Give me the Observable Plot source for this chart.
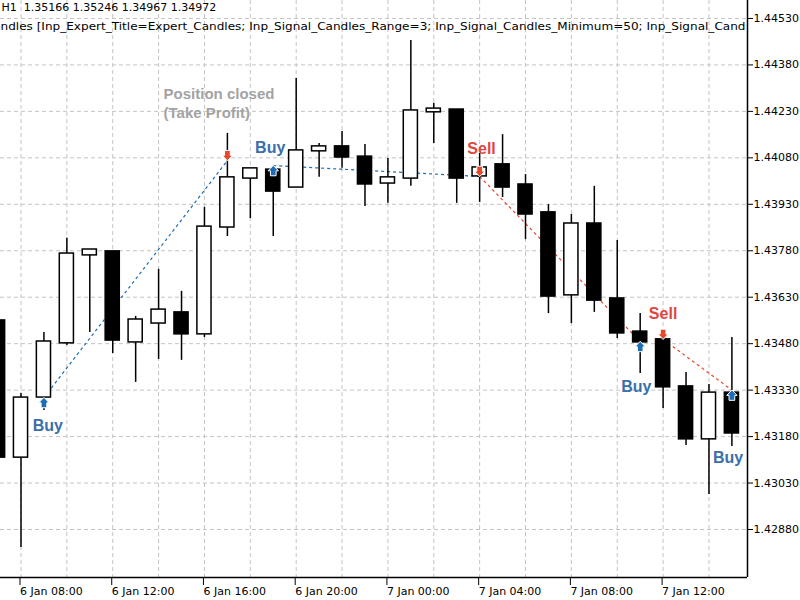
<!DOCTYPE html>
<html><head><meta charset="utf-8">
<script src="https://cdn.jsdelivr.net/npm/d3@7"></script>
<script src="https://cdn.jsdelivr.net/npm/@observablehq/plot@0.6"></script>
<style>body{margin:0;background:#fff} #chart{position:absolute;left:0;top:0}</style>
</head><body><div id="chart"></div>
<script>
// ---- candle data (H1) ----
const times = [
  "2020-01-06T07:00Z","2020-01-06T08:00Z","2020-01-06T09:00Z","2020-01-06T10:00Z","2020-01-06T11:00Z",
  "2020-01-06T12:00Z","2020-01-06T13:00Z","2020-01-06T14:00Z","2020-01-06T15:00Z","2020-01-06T16:00Z",
  "2020-01-06T17:00Z","2020-01-06T18:00Z","2020-01-06T19:00Z","2020-01-06T20:00Z","2020-01-06T21:00Z",
  "2020-01-06T22:00Z","2020-01-06T23:00Z","2020-01-07T00:00Z","2020-01-07T01:00Z","2020-01-07T02:00Z",
  "2020-01-07T03:00Z","2020-01-07T04:00Z","2020-01-07T05:00Z","2020-01-07T06:00Z","2020-01-07T07:00Z",
  "2020-01-07T08:00Z","2020-01-07T09:00Z","2020-01-07T10:00Z","2020-01-07T11:00Z","2020-01-07T12:00Z",
  "2020-01-07T13:00Z","2020-01-07T14:00Z","2020-01-07T15:00Z"
];
const opens  = [1.43555,1.43112,1.43306,1.43481,1.43765,1.43778,1.43484,1.43545,1.43581,1.43510,
                1.43855,1.44013,1.44042,1.43984,1.44101,1.44117,1.44084,1.43997,1.44013,1.44227,
                1.44236,1.44020,1.44059,1.43994,1.43904,1.43636,1.43868,1.43626,1.43519,1.43494,
                1.43342,1.43171,1.43322];
const highs  = [1.43570,1.43319,1.43516,1.43820,1.43784,1.43778,1.43568,1.43720,1.43649,1.43920,
                1.44159,1.44046,1.44042,1.44336,1.44126,1.44165,1.44123,1.44078,1.44459,1.44256,
                1.44236,1.44094,1.44155,1.44026,1.43929,1.43897,1.43988,1.43813,1.43577,1.43494,
                1.43387,1.43348,1.43500];
const lows   = [1.43100,1.42822,1.43264,1.43474,1.43516,1.43448,1.43355,1.43429,1.43426,1.43500,
                1.43826,1.43884,1.43826,1.43984,1.44017,1.44046,1.43923,1.43933,1.43988,1.44126,
                1.43933,1.43936,1.43952,1.43816,1.43577,1.43545,1.43581,1.43497,1.43384,1.43271,
                1.43151,1.42993,1.43148];
const closes = [1.43112,1.43306,1.43487,1.43771,1.43784,1.43490,1.43558,1.43590,1.43510,1.43858,
                1.44017,1.44046,1.43971,1.44104,1.44117,1.44081,1.43994,1.44017,1.44233,1.44239,
                1.44013,1.44049,1.43984,1.43897,1.43632,1.43868,1.43619,1.43513,1.43484,1.43339,
                1.43171,1.43322,1.43190];

// ---- trades (entry -> exit) ----
const tradeSide   = ["buy","buy","sell","sell"];
const tradeOpenT  = ["2020-01-06T09:00Z","2020-01-06T19:00Z","2020-01-07T04:00Z","2020-01-07T12:00Z"];
const tradeOpenP  = [1.43306,1.44055,1.44020,1.43494];
const tradeCloseT = ["2020-01-06T17:00Z","2020-01-07T04:00Z","2020-01-07T11:00Z","2020-01-07T15:00Z"];
const tradeCloseP = [1.44071,1.44020,1.43487,1.43330];

// ---- arrows ----
const arrowDir   = ["up","down","up","down","up","down","up"];
const arrowTimes = ["2020-01-06T09:00Z","2020-01-06T17:00Z","2020-01-06T19:00Z","2020-01-07T04:00Z","2020-01-07T11:00Z","2020-01-07T12:00Z","2020-01-07T15:00Z"];
const arrowPrice = [1.43306,1.44071,1.44055,1.44020,1.43487,1.43494,1.43330];

// ---- text labels ----
const labelText  = ["Buy","Buy","Sell","Buy","Sell","Buy"];
const labelTimes = ["2020-01-06T09:10Z","2020-01-06T18:52Z","2020-01-07T04:05Z","2020-01-07T10:50Z","2020-01-07T12:00Z","2020-01-07T14:50Z"];
const labelPrice = [1.43213,1.44113,1.44110,1.43342,1.43577,1.43112];
const noteText   = "Position closed\n(Take Profit)";
const noteTime   = "2020-01-06T14:13Z";
const notePrice  = 1.44259;

// ---- axes ----
const yTicks = [1.44530,1.44380,1.44230,1.44080,1.43930,1.43780,1.43630,1.43480,1.43330,1.43180,1.43030,1.42880];
const xTicks = ["2020-01-06T08:00Z","2020-01-06T12:00Z","2020-01-06T16:00Z","2020-01-06T20:00Z","2020-01-07T00:00Z","2020-01-07T04:00Z","2020-01-07T08:00Z","2020-01-07T12:00Z"];
const xGrid  = ["2020-01-06T08:00Z","2020-01-06T10:00Z","2020-01-06T12:00Z","2020-01-06T14:00Z","2020-01-06T16:00Z","2020-01-06T18:00Z","2020-01-06T20:00Z","2020-01-06T22:00Z",
                "2020-01-07T00:00Z","2020-01-07T02:00Z","2020-01-07T04:00Z","2020-01-07T06:00Z","2020-01-07T08:00Z","2020-01-07T10:00Z","2020-01-07T12:00Z","2020-01-07T14:00Z"];
const header1 = "H1\u00a0\u00a01.35166 1.35246 1.34967 1.34972";
const header2 = "ndles [Inp_Expert_Title=Expert_Candles; Inp_Signal_Candles_Range=3; Inp_Signal_Candles_Minimum=50; Inp_Signal_Cand";

// ---- build tables ----
const D = s => new Date(s);
const HALF = 18.5 * 60 * 1000;
const candles = times.map((t, i) => ({t: D(t), o: opens[i], h: highs[i], l: lows[i], c: closes[i]}));
const bulls = candles.filter(d => d.c >= d.o);
const bears = candles.filter(d => d.c < d.o);
const trades = tradeSide.map((s, i) => ({side: s, t1: D(tradeOpenT[i]), p1: tradeOpenP[i], t2: D(tradeCloseT[i]), p2: tradeCloseP[i]}));
const arrows = arrowDir.map((d, i) => ({dir: d, t: D(arrowTimes[i]), p: arrowPrice[i]}));
const labels = labelText.map((s, i) => ({s, t: D(labelTimes[i]), p: labelPrice[i]}));

const upArrow = {draw(ctx, size) {
  const r = Math.sqrt(size / Math.PI), w = r * 0.55, m = r * 0.05;
  ctx.moveTo(0, -r); ctx.lineTo(r, m); ctx.lineTo(w, m); ctx.lineTo(w, r);
  ctx.lineTo(-w, r); ctx.lineTo(-w, m); ctx.lineTo(-r, m); ctx.closePath();
}};
const downArrow = {draw(ctx, size) {
  const r = Math.sqrt(size / Math.PI), w = r * 0.55, m = r * 0.05;
  ctx.moveTo(0, r); ctx.lineTo(r, -m); ctx.lineTo(w, -m); ctx.lineTo(w, -r);
  ctx.lineTo(-w, -r); ctx.lineTo(-w, -m); ctx.lineTo(-r, -m); ctx.closePath();
}};

const pad = n => String(n).padStart(2, "0");
const fmtX = d => `${d.getUTCDate()} Jan ${pad(d.getUTCHours())}:${pad(d.getUTCMinutes())}`;
const xMin = D("2020-01-06T07:06:22Z"), xMax = D("2020-01-07T15:40:48Z");
const yMin = 1.42725, yMax = 1.44588;
const gridStyle = {stroke: "#c4c4c4", strokeDasharray: "4,3", strokeWidth: 1};
const BLUE = "#1c6db5", RED = "#e8482a";

const chart = Plot.plot({
  width: 800, height: 600,
  marginLeft: 0, marginRight: 53, marginTop: 0, marginBottom: 23,
  style: {fontFamily: "DejaVu Sans", fontSize: "11px", color: "#000", background: "#fff"},
  x: {type: "utc", domain: [xMin, xMax], axis: null},
  y: {domain: [yMin, yMax], axis: null},
  marks: [
    Plot.ruleY(yTicks, {y: d => d, ...gridStyle}),
    Plot.ruleX(xGrid.map(D), {x: d => d, ...gridStyle}),
    Plot.text([header1], {text: d => d, frameAnchor: "top-left", dx: 1, dy: 3, lineAnchor: "top", textAnchor: "start", fill: "#000", fontSize: 11}),
    Plot.text([header2], {text: d => d, frameAnchor: "top-left", dx: 0, dy: 22, lineAnchor: "top", textAnchor: "start", fill: "#000", fontSize: 11}),
    Plot.link(trades.filter(d => d.side === "buy"), {x1: "t1", y1: "p1", x2: "t2", y2: "p2", stroke: BLUE, strokeWidth: 1.2, strokeDasharray: "3,3"}),
    Plot.link(trades.filter(d => d.side === "sell"), {x1: "t1", y1: "p1", x2: "t2", y2: "p2", stroke: RED, strokeWidth: 1.2, strokeDasharray: "3,3"}),
    Plot.ruleX(candles, {x: "t", y1: "l", y2: "h", stroke: "#000", strokeWidth: 1.5}),
    Plot.rect(bulls, {x1: d => new Date(+d.t - HALF), x2: d => new Date(+d.t + HALF), y1: "o", y2: "c", fill: "#fff", stroke: "#000", strokeWidth: 1.5}),
    Plot.rect(bears, {x1: d => new Date(+d.t - HALF), x2: d => new Date(+d.t + HALF), y1: "o", y2: "c", fill: "#000", stroke: "#000", strokeWidth: 1.5}),
    Plot.dot(arrows.filter(d => d.dir === "up"), {x: "t", y: "p", symbol: upArrow, r: 5.2, dy: 5, fill: BLUE, stroke: "#fff", strokeWidth: 1}),
    Plot.dot(arrows.filter(d => d.dir === "down"), {x: "t", y: "p", symbol: downArrow, r: 5.2, dy: -5, fill: RED, stroke: "#fff", strokeWidth: 1}),
    Plot.text(labels.filter(d => d.s === "Buy"), {x: "t", y: "p", text: "s", fill: "#3a6fa9", fontSize: 16, fontWeight: "bold", fontFamily: "Liberation Sans"}),
    Plot.text(labels.filter(d => d.s === "Sell"), {x: "t", y: "p", text: "s", fill: "#e0463f", fontSize: 16, fontWeight: "bold", fontFamily: "Liberation Sans"}),
    Plot.text([noteText], {x: () => D(noteTime), y: () => notePrice, text: d => d, textAnchor: "start", lineAnchor: "middle", lineHeight: 1.3, fill: "#a3a3a3", fontSize: 15, fontWeight: "bold", fontFamily: "Liberation Sans"}),
    Plot.ruleX([xMax], {stroke: "#000", strokeWidth: 1.5}),
    Plot.ruleY([yMin], {stroke: "#000", strokeWidth: 1.5}),
    Plot.axisY(yTicks, {anchor: "right", tickSize: 5, tickPadding: 1, tickFormat: d => d.toFixed(5), fill: "#000", stroke: "#000"}),
    Plot.axisX(xTicks.map(D), {anchor: "bottom", tickSize: 8, tickPadding: 2, textAnchor: "start", dx: -1, tickFormat: fmtX, fill: "#000", stroke: "#000"})
  ]
});
document.getElementById("chart").appendChild(chart);
chart.querySelectorAll("text").forEach(el => {
  if (el.textContent.startsWith("ndles")) { el.setAttribute("textLength", 745); el.setAttribute("lengthAdjust", "spacingAndGlyphs"); }
});
</script>
</body></html>
